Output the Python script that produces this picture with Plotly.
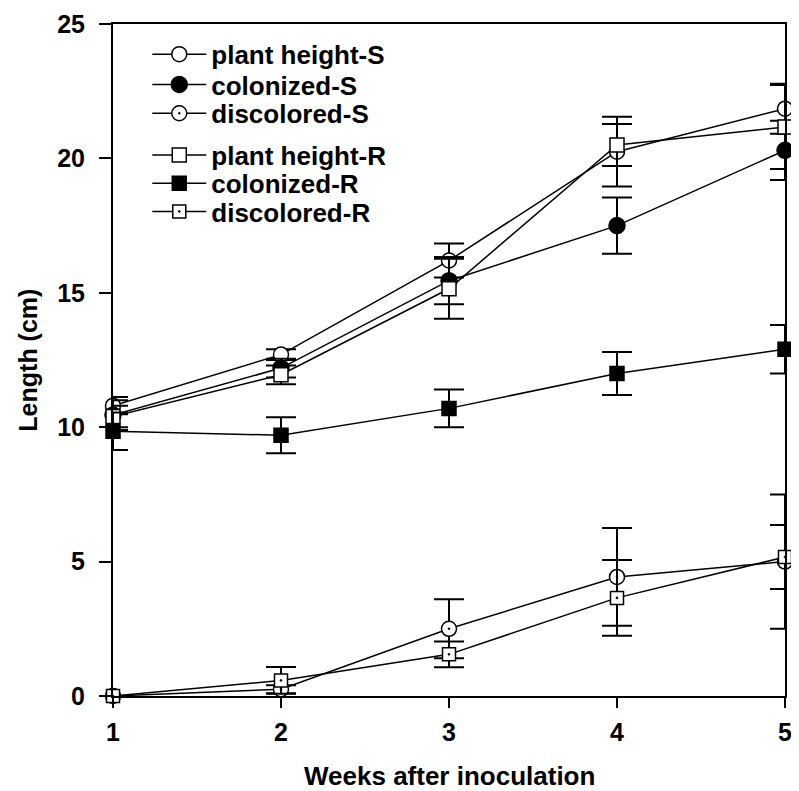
import plotly.graph_objects as go

weeks = [1, 2, 3, 4, 5]

ph_S = [10.8, 12.7, 16.2, 20.25, 21.85]
ph_S_err = [0.32, 0.2, 0.63, 1.3, 0.93]
col_S = [10.45, 12.2, 15.45, 17.5, 20.3]
col_S_err = [0.55, 0.35, 0.88, 1.05, 1.1]
dis_S = [0, 0.25, 2.5, 4.43, 5.0]
dis_S_err = [0, 0.15, 1.1, 1.82, 2.5]

ph_R = [10.4, 11.95, 15.15, 20.5, 21.17]
ph_R_err = [0.4, 0.35, 1.12, 0.78, 1.56]
col_R = [9.85, 9.7, 10.7, 12.0, 12.9]
col_R_err = [0.7, 0.67, 0.7, 0.8, 0.9]
dis_R = [0, 0.58, 1.55, 3.65, 5.17]
dis_R_err = [0, 0.5, 0.48, 1.41, 1.19]

series = [
    ("plant height-S", ph_S, ph_S_err, "circle", "white", 15),
    ("colonized-S", col_S, col_S_err, "circle", "black", 16),
    ("discolored-S", dis_S, dis_S_err, "circle-dot", "white", 15),
    ("plant height-R", ph_R, ph_R_err, "square", "white", 14),
    ("colonized-R", col_R, col_R_err, "square", "black", 14),
    ("discolored-R", dis_R, dis_R_err, "square-dot", "white", 13),
]

x_title = "Weeks after inoculation"
y_title = "Length (cm)"

# legend row positions (paper fraction of plot height)
legend_rows = [0.955, 0.910, 0.867, 0.805, 0.763, 0.721]

FONT = "Liberation Sans, Arial, sans-serif"
legend_font = dict(family=FONT, size=26, color="black", weight="bold")

fig = go.Figure()
layout_legends = {}
for i, (name, vals, errs, sym, fill, size) in enumerate(series):
    key = "legend" if i == 0 else f"legend{i + 1}"
    fig.add_trace(go.Scatter(
        x=weeks, y=vals, name=name, mode="lines+markers",
        legend=key,
        line=dict(color="black", width=1.5),
        marker=dict(symbol=sym, size=size, color=fill,
                    line=dict(color="black", width=1.5)),
        error_y=dict(type="data", array=errs, color="black",
                     thickness=2, width=15),
        cliponaxis=False,
    ))
    layout_legends[key] = dict(
        x=0.051, y=legend_rows[i], xanchor="left", yanchor="middle",
        bgcolor="rgba(0,0,0,0)", font=legend_font,
        itemsizing="trace", itemwidth=54,
    )

fig.update_layout(
    width=791, height=783,
    margin=dict(l=105, r=14, t=16, b=95),
    plot_bgcolor="white", paper_bgcolor="white",
    font=dict(family=FONT, size=25, color="black", weight="bold"),
    showlegend=True,
    **layout_legends,
    annotations=[
        dict(text=x_title, xref="paper", yref="paper", x=0.5, y=-0.119,
             xanchor="center", yanchor="middle", showarrow=False,
             font=dict(family=FONT, size=26, weight="bold", color="black")),
        dict(text=y_title, xref="paper", yref="paper", x=-0.127, y=0.5,
             xanchor="center", yanchor="middle", showarrow=False,
             textangle=-90,
             font=dict(family=FONT, size=25, weight="bold", color="black")),
    ],
)
fig.update_xaxes(
    range=[1, 5], tickvals=[1, 2, 3, 4, 5], ticktext=["1", "2", "3", "4", "5"],
    showline=True, linecolor="black", linewidth=2, mirror=True,
    ticks="outside", ticklen=10, tickwidth=2, tickcolor="black",
    showgrid=False, zeroline=False, automargin=False,
    ticklabelstandoff=3,
    tickfont=dict(family=FONT, size=25, weight="bold"),
)
fig.update_yaxes(
    range=[0, 25], tickvals=[0, 5, 10, 15, 20, 25],
    showline=True, linecolor="black", linewidth=2, mirror=True,
    ticks="outside", ticklen=12, tickwidth=2, tickcolor="black",
    showgrid=False, zeroline=False, automargin=False,
    ticklabelstandoff=9,
    tickfont=dict(family=FONT, size=25, weight="bold"),
)

fig.write_html("out.html")
